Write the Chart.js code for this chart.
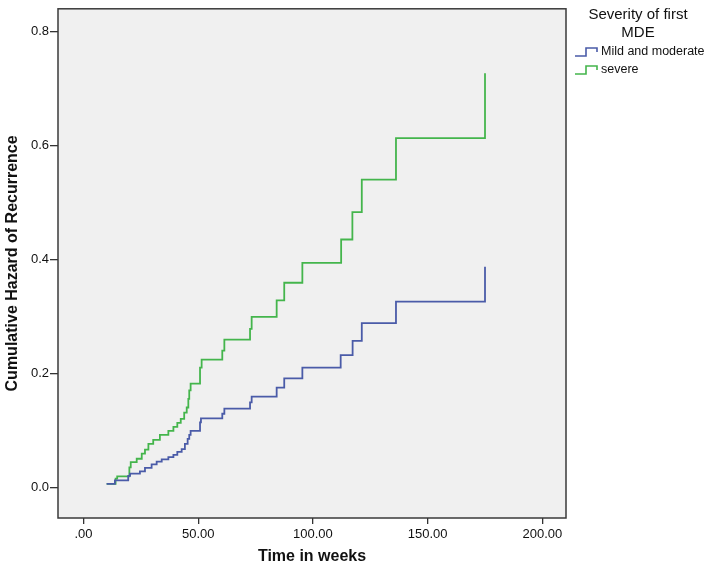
<!DOCTYPE html>
<html>
<head>
<meta charset="utf-8">
<script src="https://cdn.jsdelivr.net/npm/chart.js@4"></script>
<style>
  html, body { margin: 0; padding: 0; background: #fff; }
  #wrap { width: 704px; height: 566px; }
</style>
</head>
<body>
<div id="wrap"><canvas id="hazardChart" width="704" height="566"></canvas></div>
<script>
// event times (weeks) and cumulative hazard after each step
var mildTimes  = [10.1, 13.7, 19.5, 20.3, 24.6, 26.8, 29.7, 31.9, 34.1, 37.0, 39.2, 40.9, 42.8, 44.2, 45.4, 46.1, 46.7, 50.8, 51.2, 60.5, 61.4, 72.6, 73.3, 84.2, 87.5, 95.4, 112.1, 117.3, 121.3, 136.2, 175.0];
var mildHazard = [0.006, 0.012, 0.020, 0.024, 0.028, 0.034, 0.040, 0.045, 0.049, 0.053, 0.057, 0.062, 0.067, 0.076, 0.085, 0.092, 0.099, 0.114, 0.121, 0.129, 0.138, 0.149, 0.159, 0.175, 0.191, 0.210, 0.232, 0.257, 0.288, 0.326, 0.387];

var severeTimes  = [10.1, 14.0, 14.7, 20.0, 20.6, 23.2, 25.4, 26.8, 28.3, 30.4, 33.3, 37.0, 39.2, 40.9, 42.4, 43.9, 45.0, 45.7, 46.1, 46.7, 50.8, 51.5, 60.5, 61.4, 72.6, 73.3, 84.2, 87.5, 95.4, 112.3, 117.2, 121.3, 136.2, 175.0];
var severeHazard = [0.006, 0.015, 0.019, 0.035, 0.044, 0.050, 0.059, 0.066, 0.076, 0.083, 0.092, 0.099, 0.106, 0.113, 0.120, 0.131, 0.140, 0.155, 0.170, 0.182, 0.210, 0.224, 0.240, 0.259, 0.278, 0.299, 0.328, 0.359, 0.394, 0.435, 0.483, 0.540, 0.613, 0.727];

var groupLabels = ['Mild and moderate', 'severe'];
var groupColors = ['#4a5ba8', '#44b54c'];
var xTicks = [0, 50, 100, 150, 200];
var yTicks = [0, 0.2, 0.4, 0.6, 0.8];
var legendTitle = ['Severity of first', 'MDE'];

function toPoints(xs, ys) {
  return xs.map(function (x, i) { return { x: x, y: ys[i] }; });
}

// plot background + frame
var framePlugin = {
  id: 'frame',
  beforeDraw: function (chart) {
    var a = chart.chartArea, c = chart.ctx;
    c.save();
    c.fillStyle = '#f0f0f0';
    c.fillRect(a.left, a.top, a.right - a.left, a.bottom - a.top);
    c.restore();
  },
  afterDraw: function (chart) {
    var a = chart.chartArea, c = chart.ctx;
    c.save();
    c.strokeStyle = '#3a3a3a';
    c.lineWidth = 1.5;
    c.strokeRect(a.left, a.top, a.right - a.left, a.bottom - a.top);
    c.restore();
  }
};

// SPSS style legend on the right, step icons
var stepLegend = {
  id: 'stepLegend',
  afterDraw: function (chart) {
    var c = chart.ctx, a = chart.chartArea;
    var cx = a.right + 72;
    c.save();
    c.fillStyle = '#111';
    c.font = '15px "Liberation Sans", Arial, sans-serif';
    c.textAlign = 'center';
    c.textBaseline = 'middle';
    legendTitle.forEach(function (t, i) { c.fillText(t, cx, 15 + i * 18); });
    c.font = '12.5px "Liberation Sans", Arial, sans-serif';
    c.textAlign = 'left';
    chart.data.datasets.forEach(function (ds, i) {
      var y = 52 + i * 18, x0 = a.right + 9;
      c.strokeStyle = ds.borderColor;
      c.lineWidth = 1.6;
      c.beginPath();
      c.moveTo(x0, y + 4);
      c.lineTo(x0 + 11, y + 4);
      c.lineTo(x0 + 11, y - 4);
      c.lineTo(x0 + 22, y - 4);
      c.lineTo(x0 + 22, y);
      c.stroke();
      c.fillStyle = '#111';
      c.fillText(ds.label, x0 + 26, y);
    });
    c.restore();
  }
};

var ctx = document.getElementById('hazardChart').getContext('2d');
var hazardChart = new Chart(ctx, {
  type: 'line',
  data: {
    datasets: [{
      label: groupLabels[0],
      data: toPoints(mildTimes, mildHazard),
      borderColor: groupColors[0],
      borderWidth: 1.8,
      pointRadius: 0,
      stepped: 'before',
      fill: false
    }, {
      label: groupLabels[1],
      data: toPoints(severeTimes, severeHazard),
      borderColor: groupColors[1],
      borderWidth: 1.8,
      pointRadius: 0,
      stepped: 'before',
      fill: false
    }]
  },
  options: {
    responsive: false,
    animation: false,
    layout: { padding: { top: 5, right: 138, left: 0, bottom: 0 } },
    plugins: {
      legend: { display: false },
      tooltip: { enabled: false }
    },
    scales: {
      x: {
        type: 'linear',
        min: -11.1,
        max: 210.3,
        afterBuildTicks: function (s) { s.ticks = xTicks.map(function (v) { return { value: v }; }); },
        afterFit: function (s) { s.height = 48; },
        ticks: {
          color: '#111',
          font: { family: '"Liberation Sans", Arial, sans-serif', size: 13 },
          padding: 3,
          maxRotation: 0,
          callback: function (v) { return v === 0 ? '.00' : v.toFixed(2); }
        },
        grid: { drawOnChartArea: false, drawTicks: true, tickLength: 6, color: '#333', lineWidth: 1.3 },
        border: { display: false },
        title: {
          display: true,
          text: 'Time in weeks',
          color: '#111',
          font: { family: '"Liberation Sans", Arial, sans-serif', size: 16, weight: 'bold' },
          padding: { top: 4, bottom: 0 }
        }
      },
      y: {
        type: 'linear',
        min: -0.054,
        max: 0.84,
        afterBuildTicks: function (s) { s.ticks = yTicks.map(function (v) { return { value: v }; }); },
        afterFit: function (s) { s.width = 58; },
        ticks: {
          color: '#111',
          font: { family: '"Liberation Sans", Arial, sans-serif', size: 13 },
          padding: 1,
          callback: function (v) { return v.toFixed(1); }
        },
        grid: { drawOnChartArea: false, drawTicks: true, tickLength: 8, color: '#333', lineWidth: 1.3 },
        border: { display: false },
        title: {
          display: true,
          text: 'Cumulative Hazard of Recurrence',
          color: '#111',
          font: { family: '"Liberation Sans", Arial, sans-serif', size: 16, weight: 'bold' },
          padding: { top: 3, bottom: 2 }
        }
      }
    }
  },
  plugins: [framePlugin, stepLegend]
});
</script>
</body>
</html>
